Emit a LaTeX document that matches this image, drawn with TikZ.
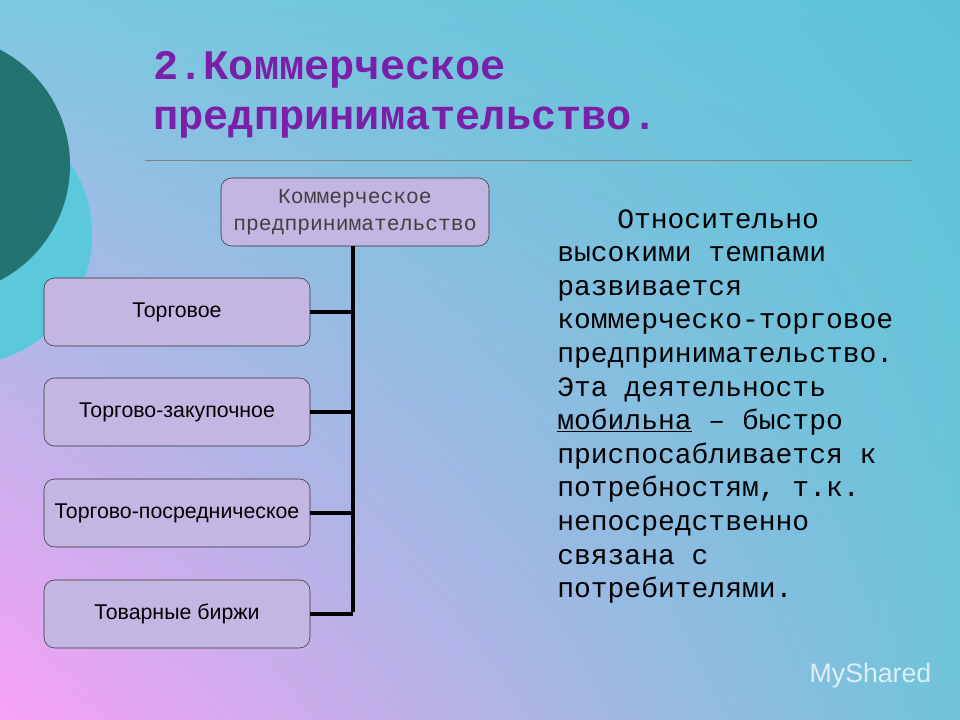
\documentclass[tikz,border=0pt]{standalone}
\usepackage{fontspec}
\setmainfont{Liberation Sans}
\newfontfamily\monofont{Liberation Mono}
\usetikzlibrary{positioning,shadings}
\definecolor{bgpink}{HTML}{F8A0F4}
\definecolor{bgcyan}{HTML}{5CC4D8}
\definecolor{bgtopleft}{HTML}{7CC8E0}
\definecolor{bglav}{HTML}{70C4DA}
\definecolor{darkteal}{HTML}{237373}
\definecolor{lightcyan}{HTML}{5CC8DC}
\definecolor{titlepurple}{HTML}{7A1FA8}
\definecolor{boxfill}{HTML}{C4B6E2}
\tikzset{
  branch/.style={draw=black!80, fill=boxfill, rounded corners=8pt, minimum width=266*0.75pt, minimum height=68*0.75pt, font=\fontsize{16}{18}\selectfont},
  link/.style={line width=3.5pt}
}
\begin{document}
\begin{tikzpicture}[x=0.75pt, y=-0.75pt]
\useasboundingbox (0,0) rectangle (960,720);
% background
\shade[upper left=bgtopleft, upper right=bgcyan, lower left=bgpink, lower right=bglav] (0,0) rectangle (960,720);
\fill[lightcyan] (-38,235) circle (130);
\fill[darkteal] (-60,165) circle (130);
% title
\node[anchor=west, align=left, inner sep=0pt, text=titlepurple, font=\monofont\bfseries\fontsize{31.5}{37.5}\selectfont] (title) at (153,95) {2.Коммерческое\\предпринимательство.};
\draw[black!50] (145,160) -- (912,160);
% tree
\node[branch, minimum width=268*0.75pt, align=center, inner sep=1pt, font=\monofont\fontsize{16}{20}\selectfont, text=black!75] (root) at (355,212) {Коммерческое\\предпринимательство};
\node[branch] (b1) at (177,312) {Торговое};
\node[branch] (b2) at (177,412) {Торгово-закупочное};
\node[branch] (b3) at (177,513) {Торгово-посредническое};
\node[branch] (b4) at (177,614) {Товарные биржи};
\coordinate (trunk) at (353,612);
\draw[link] (root.south -| trunk) -- (trunk);
\foreach \b in {b1,b2,b3,b4}
  \draw[link] (\b.east) -- (\b.east -| trunk);
% text
\node[anchor=north west, align=left, inner sep=0pt, font=\monofont\fontsize{21}{25.2}\selectfont] (desc) at (557,209) {%
\hspace*{45pt}Относительно\\высокими темпами\\развивается\\коммерческо-торговое\\предпринимательство.\\Эта деятельность\\\underline{мобильна} – быстро\\приспосабливается к\\потребностям, т.к.\\непосредственно\\связана с\\потребителями.};
\node[anchor=west, text=white, opacity=0.75, font=\fontsize{20}{22}\selectfont] (logo) at (805,676) {MyShared};
\end{tikzpicture}
\end{document}
